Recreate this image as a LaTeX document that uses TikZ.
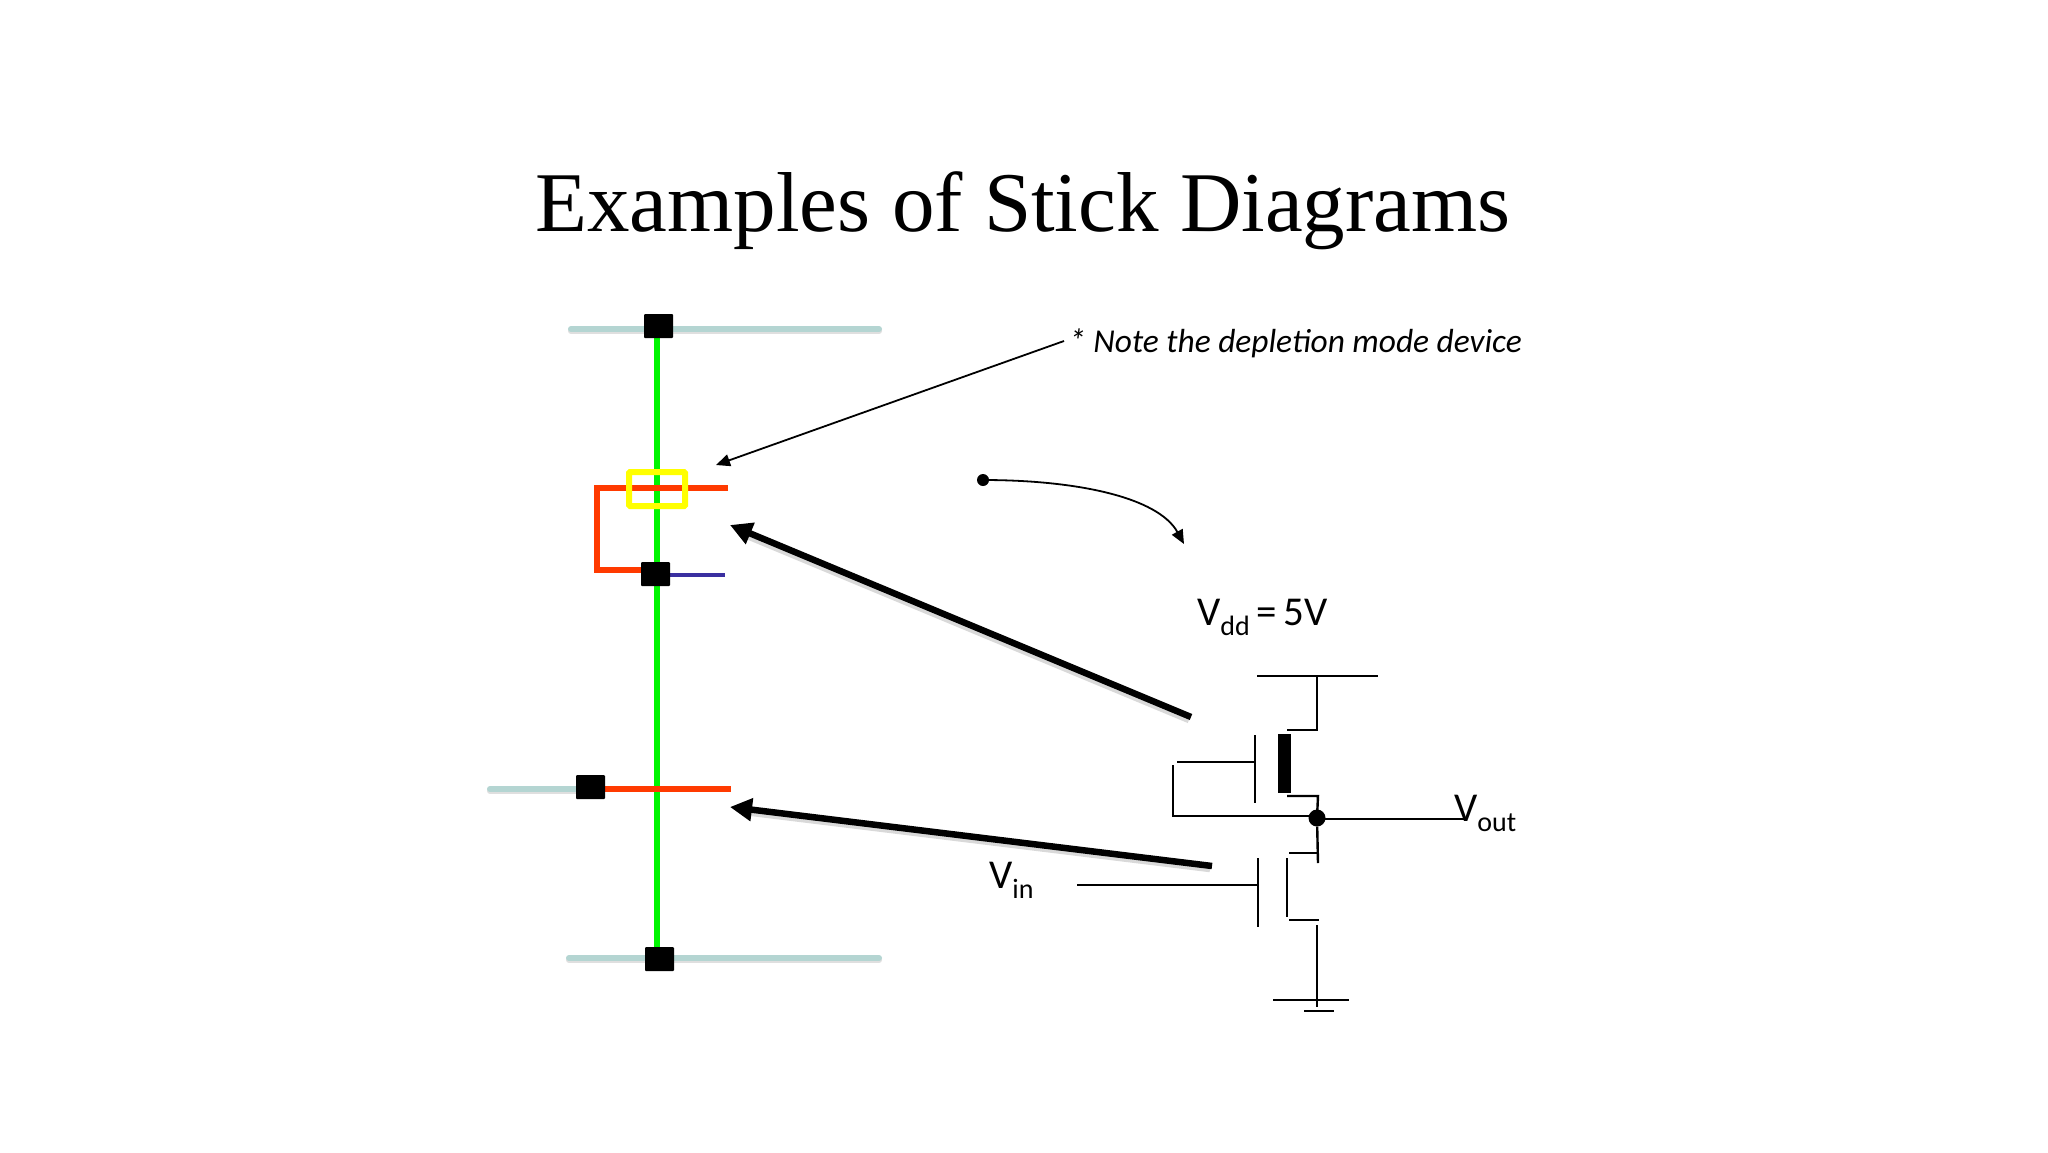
\documentclass[tikz,border=0pt]{standalone}
\usepackage{fontspec}
\setmainfont{Liberation Serif}
\newfontfamily\carl{Carlito}
\usetikzlibrary{arrows.meta}
\newcommand{\VSub}[1]{V\raisebox{-10pt}{\fontsize{28}{28}\selectfont #1}}
\definecolor{railc}{HTML}{B4D5D2}
\definecolor{greenc}{HTML}{00F500}
\definecolor{redc}{HTML}{FF3A00}
\definecolor{bluec}{HTML}{3A2FA0}
\definecolor{yellowc}{HTML}{FFFF00}
\tikzset{
  x=1pt,y=-1pt,
  rail/.style={line width=6pt,draw=railc,line cap=round},
  railshadow/.style={line width=6pt,draw=black!35,opacity=.35,line cap=round},
  wire/.style={line width=2.4pt,draw=black},
  green wire/.style={line width=6.5pt,draw=greenc},
  red wire/.style={line width=6.5pt,draw=redc},
  contact/.style={fill=black,draw=none,minimum width=29pt,minimum height=24pt,inner sep=0,rounded corners=1pt},
  dot/.style={circle,fill=black,inner sep=0},
  thick arrow/.style={line width=6.5pt,draw=black,-{Triangle[length=22pt,width=22pt]}},
  arrow shadow/.style={line width=6.5pt,draw=black,opacity=.15,shorten >=20pt},
  thin arrow/.style={line width=1.8pt,draw=black,-{Triangle[length=14pt,width=12pt]}},
  txt/.style={inner sep=0,anchor=base west,font=\carl\fontsize{41}{41}\selectfont},
}
\begin{document}
\begin{tikzpicture}
\useasboundingbox (0,0) rectangle (2048,1152);
\fill[white] (0,0) rectangle (2048,1152);
% title
\node[inner sep=0,anchor=base] (title) at (1023,231) {\fontsize{85}{85}\selectfont Examples of Stick Diagrams};
% coordinates
\coordinate (r1a) at (571,329); \coordinate (r1b) at (879,329);
\coordinate (r2a) at (490,789);
\coordinate (r3a) at (569,958); \coordinate (r3b) at (879,958);
\coordinate (redTopEnd) at (728,488); \coordinate (redTopCorner) at (597,488); \coordinate (redLowCorner) at (597,570);
\coordinate (redMidEnd) at (731,789);
\coordinate (blueEnd) at (725,575);
% contacts (positions)
\coordinate (c1p) at (658.5,326); \coordinate (c2p) at (655.5,574); \coordinate (c3p) at (590.5,787); \coordinate (c4p) at (659.5,959);
% rails
\draw[railshadow] ([yshift=-2pt]r1a) -- ([yshift=-2pt]r1b);
\draw[railshadow] ([yshift=-2pt]r2a) -- ([yshift=-2pt]c3p |- r2a);
\draw[railshadow] ([yshift=-2pt]r3a) -- ([yshift=-2pt]r3b);
\draw[rail] (r1a) -- (r1b);
\draw[rail] (r2a) -- (c3p |- r2a);
\draw[rail] (r3a) -- (r3b);
% sticks
\draw[green wire] (657,326) -- (657,959);
\draw[red wire,line cap=butt] (redTopEnd) -- (redTopCorner) -- (redLowCorner) -- (c2p |- redLowCorner);
\draw[red wire] (c3p |- redMidEnd) -- (redMidEnd);
\draw[line width=4.5pt,draw=bluec] (c2p |- blueEnd) -- (blueEnd);
% contacts
\node[contact] (c1) at (c1p) {};
\node[contact] (c2) at (c2p) {};
\node[contact] (c3) at (c3p) {};
\node[contact] (c4) at (c4p) {};
% depletion implant
\draw[yellowc,line width=6pt,rounded corners=1pt] (629,472) rectangle (685,506);
% schematic coordinates
\coordinate (vddL) at (1257,676); \coordinate (vddR) at (1378,676); \coordinate (vddT) at (1317,676);
\coordinate (d1c) at (1317,730); \coordinate (d1) at (1287,730);
\coordinate (s1) at (1287,796); \coordinate (s1c) at (1318,796);
\coordinate (g1t) at (1255,735); \coordinate (g1b) at (1255,803);
\coordinate (g1w) at (1255,762); \coordinate (g1wL) at (1177,762);
\coordinate (fbT) at (1173,765); \coordinate (fbC) at (1173,816);
\coordinate (n) at (1317,818);
\coordinate (voutEnd) at (1465,819);
\coordinate (n2) at (1318,863); \coordinate (d2c) at (1318,853); \coordinate (d2) at (1289,853);
\coordinate (ch2t) at (1287,858); \coordinate (ch2b) at (1287,917);
\coordinate (g2t) at (1258,858); \coordinate (g2b) at (1258,927);
\coordinate (g2w) at (1258,885); \coordinate (g2wL) at (1077,885);
\coordinate (s2) at (1289,920); \coordinate (s2c) at (1319,920);
\coordinate (gT) at (1317,925); \coordinate (gB) at (1317,1007);
\coordinate (g1a) at (1273,1000); \coordinate (g1c) at (1349,1000);
\coordinate (g2a) at (1304,1011); \coordinate (g2c) at (1334,1011);
% schematic
\draw[wire] (vddL) -- (vddR);
\draw[wire] (vddT) -- (d1c) -- (d1);
\fill[black] (1278,734) rectangle (1291,793);
\draw[wire] (g1t) -- (g1b);
\draw[wire] (g1wL) -- (g1w);
\draw[wire] (fbT) -- (fbC) -- (n |- fbC);
\draw[wire] (s1) -- (s1c) -- (n);
\node[dot,minimum size=17pt] (nd) at (n) {};
\draw[wire] (n |- voutEnd) -- (voutEnd);
\draw[wire] (nd) -- (n2);
\draw[wire] (d2) -- (d2c);
\draw[wire] (ch2t) -- (ch2b);
\draw[wire] (g2t) -- (g2b);
\draw[wire] (g2wL) -- (g2w);
\draw[wire] (s2) -- (s2c);
\draw[wire] (gT) -- (gB);
\draw[wire] (g1a) -- (g1c);
\draw[wire] (g2a) -- (g2c);
% labels
\node[txt] (vdd) at (1197,625) {\VSub{dd}\,=\,5V};
\node[txt] (vout) at (1454,821) {\VSub{out}};
\node[txt] (vin) at (989,888) {\VSub{in}};
\node[txt,font=\carl\itshape\fontsize{33.4}{33.4}\selectfont] (note) at (1069,352) {* Note the depletion mode device};
% thick arrows
\coordinate (a1tail) at (1191,717); \coordinate (a1tip) at (730,525);
\coordinate (a2tail) at (1212,866); \coordinate (a2tip) at (730,807);
\draw[arrow shadow] ([shift={(-2,3)}]a1tail) -- ([shift={(-2,3)}]a1tip);
\draw[arrow shadow] ([shift={(-2,3)}]a2tail) -- ([shift={(-2,3)}]a2tip);
\draw[thick arrow] (a1tail) -- (a1tip);
\draw[thick arrow] (a2tail) -- (a2tip);
% thin arrows
\coordinate (noteEnd) at (1064,341); \coordinate (noteTip) at (716,465);
\draw[thin arrow] (noteEnd) -- (noteTip);
\node[dot,minimum size=12pt] (start) at (983,480) {};
\coordinate (curveTip) at (1184,544);
\draw[thin arrow] (start.center) .. controls (1076,480) and (1158,497) .. (curveTip);
\end{tikzpicture}
\end{document}
